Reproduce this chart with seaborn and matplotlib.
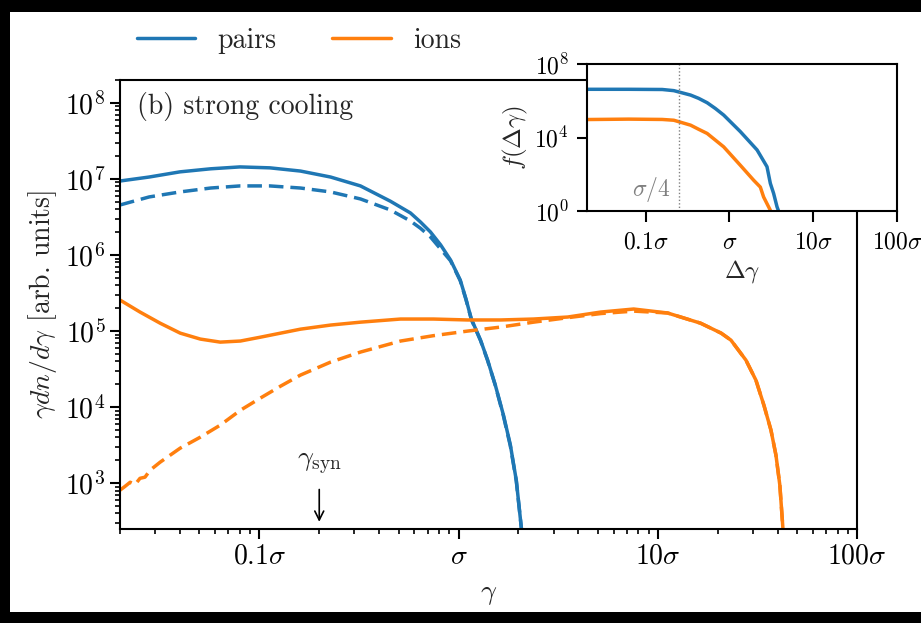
import matplotlib
matplotlib.use("Agg")
import matplotlib.pyplot as plt
import numpy as np
import seaborn as sns
from matplotlib.patches import Rectangle
from matplotlib.ticker import FixedLocator, FixedFormatter, LogLocator, NullFormatter, NullLocator

# ---- spectra, gamma in units of sigma ----
pairs_x = [0.020, 0.028, 0.040, 0.057, 0.080, 0.113, 0.161, 0.228, 0.322, 0.455,
           0.574, 0.644, 0.723, 0.813, 0.912, 1.02, 1.09, 1.16, 1.29, 1.40,
           1.53, 1.68, 1.82, 1.95, 2.07, 2.15]
pairs_total = [9.4e6, 1.06e7, 1.24e7, 1.36e7, 1.44e7, 1.40e7, 1.27e7, 1.06e7, 8.1e6, 5.1e6,
               3.57e6, 2.72e6, 2.01e6, 1.36e6, 8.6e5, 4.7e5, 2.64e5, 1.44e5, 7.6e4, 4.15e4,
               1.95e4, 7.9e3, 3.2e3, 1.09e3, 2.5e2, 1.0e2]
pairs_cooled = [4.55e6, 5.8e6, 6.75e6, 7.6e6, 8.1e6, 8.1e6, 7.6e6, 6.75e6, 5.46e6, 3.91e6,
                2.80e6, 2.25e6, 1.73e6, 1.2e6, 8.4e5, 4.6e5, 2.6e5, 1.42e5, 7.5e4, 4.1e4,
                1.93e4, 7.7e3, 3.1e3, 1.07e3, 2.5e2, 1.0e2]

ions_x = [0.0200, 0.0252, 0.0318, 0.0401, 0.0506, 0.0637, 0.0804, 0.101, 0.128, 0.161,
          0.228, 0.322, 0.512, 0.748, 1.11, 1.63, 2.38, 3.53, 5.18, 7.57,
          11.2, 16.4, 20.8, 23.3, 27.7, 31.1, 34.1, 37.0, 39.2, 41.0, 42.5, 43.5]
ions_total = [2.56e5, 1.78e5, 1.27e5, 9.4e4, 7.85e4, 7.16e4, 7.4e4, 8.3e4, 9.4e4, 1.06e5,
              1.20e5, 1.31e5, 1.44e5, 1.44e5, 1.40e5, 1.40e5, 1.44e5, 1.53e5, 1.78e5, 1.95e5,
              1.73e5, 1.27e5, 9.4e4, 7.6e4, 4.15e4, 2.26e4, 1.06e4, 4.98e3, 2.33e3, 9.4e2,
              2.5e2, 1.0e2]

ions_cool_x = [0.0200, 0.0211, 0.0225, 0.0238, 0.0252, 0.0267, 0.0283, 0.0318, 0.0401, 0.0506,
               0.0637, 0.0804, 0.101, 0.128, 0.161, 0.228, 0.322, 0.512, 0.748, 1.11,
               1.63, 2.38, 3.53, 5.18, 7.57, 11.2, 16.4, 20.8, 23.3, 27.7,
               31.1, 34.1, 37.0, 39.2, 41.0, 42.5, 43.5]
ions_cooled = [8.1e2, 9.0e2, 1.03e3, 9.6e2, 1.16e3, 1.2e3, 1.48e3, 1.89e3, 2.89e3, 4.03e3,
               5.8e3, 9.1e3, 1.31e4, 1.89e4, 2.64e4, 3.91e4, 5.3e4, 7.4e4, 8.7e4, 1.0e5,
               1.13e5, 1.31e5, 1.50e5, 1.70e5, 1.83e5, 1.73e5, 1.27e5, 9.4e4, 7.6e4, 4.15e4,
               2.26e4, 1.06e4, 4.98e3, 2.33e3, 9.4e2, 2.5e2, 1.0e2]

# ---- inset: distribution of energy jumps ----
jump_pairs_x = [0.020, 0.063, 0.158, 0.217, 0.344, 0.43, 0.543, 0.68, 0.855, 1.35,
                2.14, 2.81, 3.08, 3.37, 3.70, 3.86]
jump_pairs = [4.2e6, 4.2e6, 4.1e6, 3.55e6, 2.04e6, 1.35e6, 7.8e5, 3.8e5, 1.66e5, 2.1e4,
              2.1e3, 2.57e2, 32, 9.1, 1.7, 1.0]
jump_ions_x = [0.020, 0.063, 0.158, 0.217, 0.344, 0.43, 0.543, 0.855, 1.35, 1.95,
               2.34, 2.56, 2.81, 3.08]
jump_ions = [9.5e4, 1.0e5, 9.6e4, 8.7e4, 4.7e4, 2.8e4, 1.66e4, 3.1e3, 3.09e2, 47,
             20, 5.8, 2.5, 1.1]

gamma_syn = 0.2
sigma_quarter = 0.25
sigma_tick_vals = [0.1, 1, 10, 100]
sigma_tick_text = [r"$0.1\sigma$", r"$\sigma$", r"$10\sigma$", r"$100\sigma$"]

blue = "#1f77b4"
orange = "#ff7f0e"

sns.set_theme(style="ticks")
plt.rcParams.update({
    "font.family": ["cmr10", "DejaVu Serif"],
    "mathtext.fontset": "cm",
    "axes.formatter.use_mathtext": True,
    "font.size": 20,
    "axes.labelsize": 20,
    "xtick.labelsize": 20,
    "ytick.labelsize": 20,
    "legend.fontsize": 20,
    "axes.linewidth": 1.5,
    "axes.edgecolor": "black",
    "xtick.major.size": 7, "ytick.major.size": 7,
    "xtick.minor.size": 3.8, "ytick.minor.size": 3.8,
    "xtick.major.width": 1.5, "ytick.major.width": 1.5,
    "xtick.minor.width": 1.2, "ytick.minor.width": 1.2,
    "xtick.color": "black", "ytick.color": "black",
    "axes.unicode_minus": False,
})

W, H = 921, 623
fig = plt.figure(figsize=(W / 100, H / 100), dpi=100)
fig.patch.set_facecolor("black")
fig.add_artist(Rectangle((10 / W, 11 / H), 911 / W, 600 / H, transform=fig.transFigure,
                         facecolor="white", edgecolor="none", zorder=-10))

ax = fig.add_axes([120 / W, 1 - 529 / H, 737 / W, 449 / H])
ax.set_facecolor("white")

lw = 2.5
dash = (0, (4.2, 2.0))
sns.lineplot(x=pairs_x, y=pairs_total, ax=ax, color=blue, lw=lw, estimator=None,
             sort=False, legend=False, label="pairs")
sns.lineplot(x=pairs_x, y=pairs_cooled, ax=ax, color=blue, lw=lw, estimator=None,
             sort=False, legend=False, linestyle=dash)
sns.lineplot(x=ions_x, y=ions_total, ax=ax, color=orange, lw=lw, estimator=None,
             sort=False, legend=False, label="ions")
sns.lineplot(x=ions_cool_x, y=ions_cooled, ax=ax, color=orange, lw=lw, estimator=None,
             sort=False, legend=False, linestyle=dash)

ax.set_xscale("log")
ax.set_yscale("log")
ax.set_xlim(0.02, 100)
ax.set_ylim(2.5e2, 2e8)
ax.xaxis.set_major_locator(FixedLocator(sigma_tick_vals))
ax.xaxis.set_major_formatter(FixedFormatter(sigma_tick_text))
ax.xaxis.set_minor_locator(LogLocator(base=10, subs=np.arange(2, 10), numticks=20))
ax.xaxis.set_minor_formatter(NullFormatter())
ax.yaxis.set_major_locator(LogLocator(base=10, numticks=20))
ax.yaxis.set_minor_locator(LogLocator(base=10, subs=np.arange(2, 10), numticks=20))
ax.yaxis.set_minor_formatter(NullFormatter())
ax.tick_params(which="both", direction="out", top=False, right=False)
for s in ax.spines.values():
    s.set_visible(True)
    s.set_linewidth(1.5)
ax.set_xlabel(r"$\gamma$", labelpad=8)
ax.set_ylabel(r"$\gamma dn/d\gamma$ [arb. units]")

ax.text(0.023, 0.942, "(b) strong cooling", transform=ax.transAxes, ha="left", va="center")

ax.annotate("", xy=(gamma_syn, 0.016), xytext=(gamma_syn, 0.088),
            xycoords=("data", "axes fraction"), textcoords=("data", "axes fraction"),
            arrowprops=dict(arrowstyle="->", lw=1.2, color="black", mutation_scale=16,
                            shrinkA=0, shrinkB=0))
ax.text(gamma_syn, 0.147, r"$\gamma_{\rm syn}$", transform=ax.get_xaxis_transform(),
        ha="center", va="center")

handles, labels = ax.get_legend_handles_labels()
fig.legend(handles, labels, loc="center left", bbox_to_anchor=(137 / W, 1 - 41 / H),
           ncol=2, frameon=False, borderpad=0, borderaxespad=0, handlelength=2.1,
           handletextpad=0.8, columnspacing=2.0)

# inset
axi = fig.add_axes([587 / W, 1 - 211 / H, 310 / W, 147 / H], zorder=5)
axi.set_facecolor("white")
sns.lineplot(x=jump_pairs_x, y=jump_pairs, ax=axi, color=blue, lw=lw, estimator=None,
             sort=False, legend=False)
sns.lineplot(x=jump_ions_x, y=jump_ions, ax=axi, color=orange, lw=lw, estimator=None,
             sort=False, legend=False)
axi.set_xscale("log")
axi.set_yscale("log")
axi.set_xlim(0.02, 100)
axi.set_ylim(1, 1e8)
axi.axvline(sigma_quarter, color="gray", lw=1.0, linestyle=(0, (1, 1.5)))
axi.text(0.2, 2.5, r"$\sigma/4$", color="gray", ha="right", va="bottom", fontsize=17)
axi.xaxis.set_major_locator(FixedLocator(sigma_tick_vals))
axi.xaxis.set_major_formatter(FixedFormatter(sigma_tick_text))
axi.xaxis.set_minor_locator(NullLocator())
axi.yaxis.set_major_locator(FixedLocator([1, 1e4, 1e8]))
axi.yaxis.set_minor_locator(NullLocator())
axi.tick_params(which="both", direction="out", top=False, right=False, labelsize=17)
axi.tick_params(axis="x", length=8, pad=7)
axi.tick_params(axis="y", length=7, pad=6)
for s in axi.spines.values():
    s.set_visible(True)
    s.set_linewidth(1.5)
axi.set_xlabel(r"$\Delta\gamma$", fontsize=18, labelpad=3)
axi.set_ylabel(r"$f(\Delta\gamma)$", fontsize=18, labelpad=3)

fig.savefig("out.png", dpi=100, facecolor=fig.get_facecolor())
